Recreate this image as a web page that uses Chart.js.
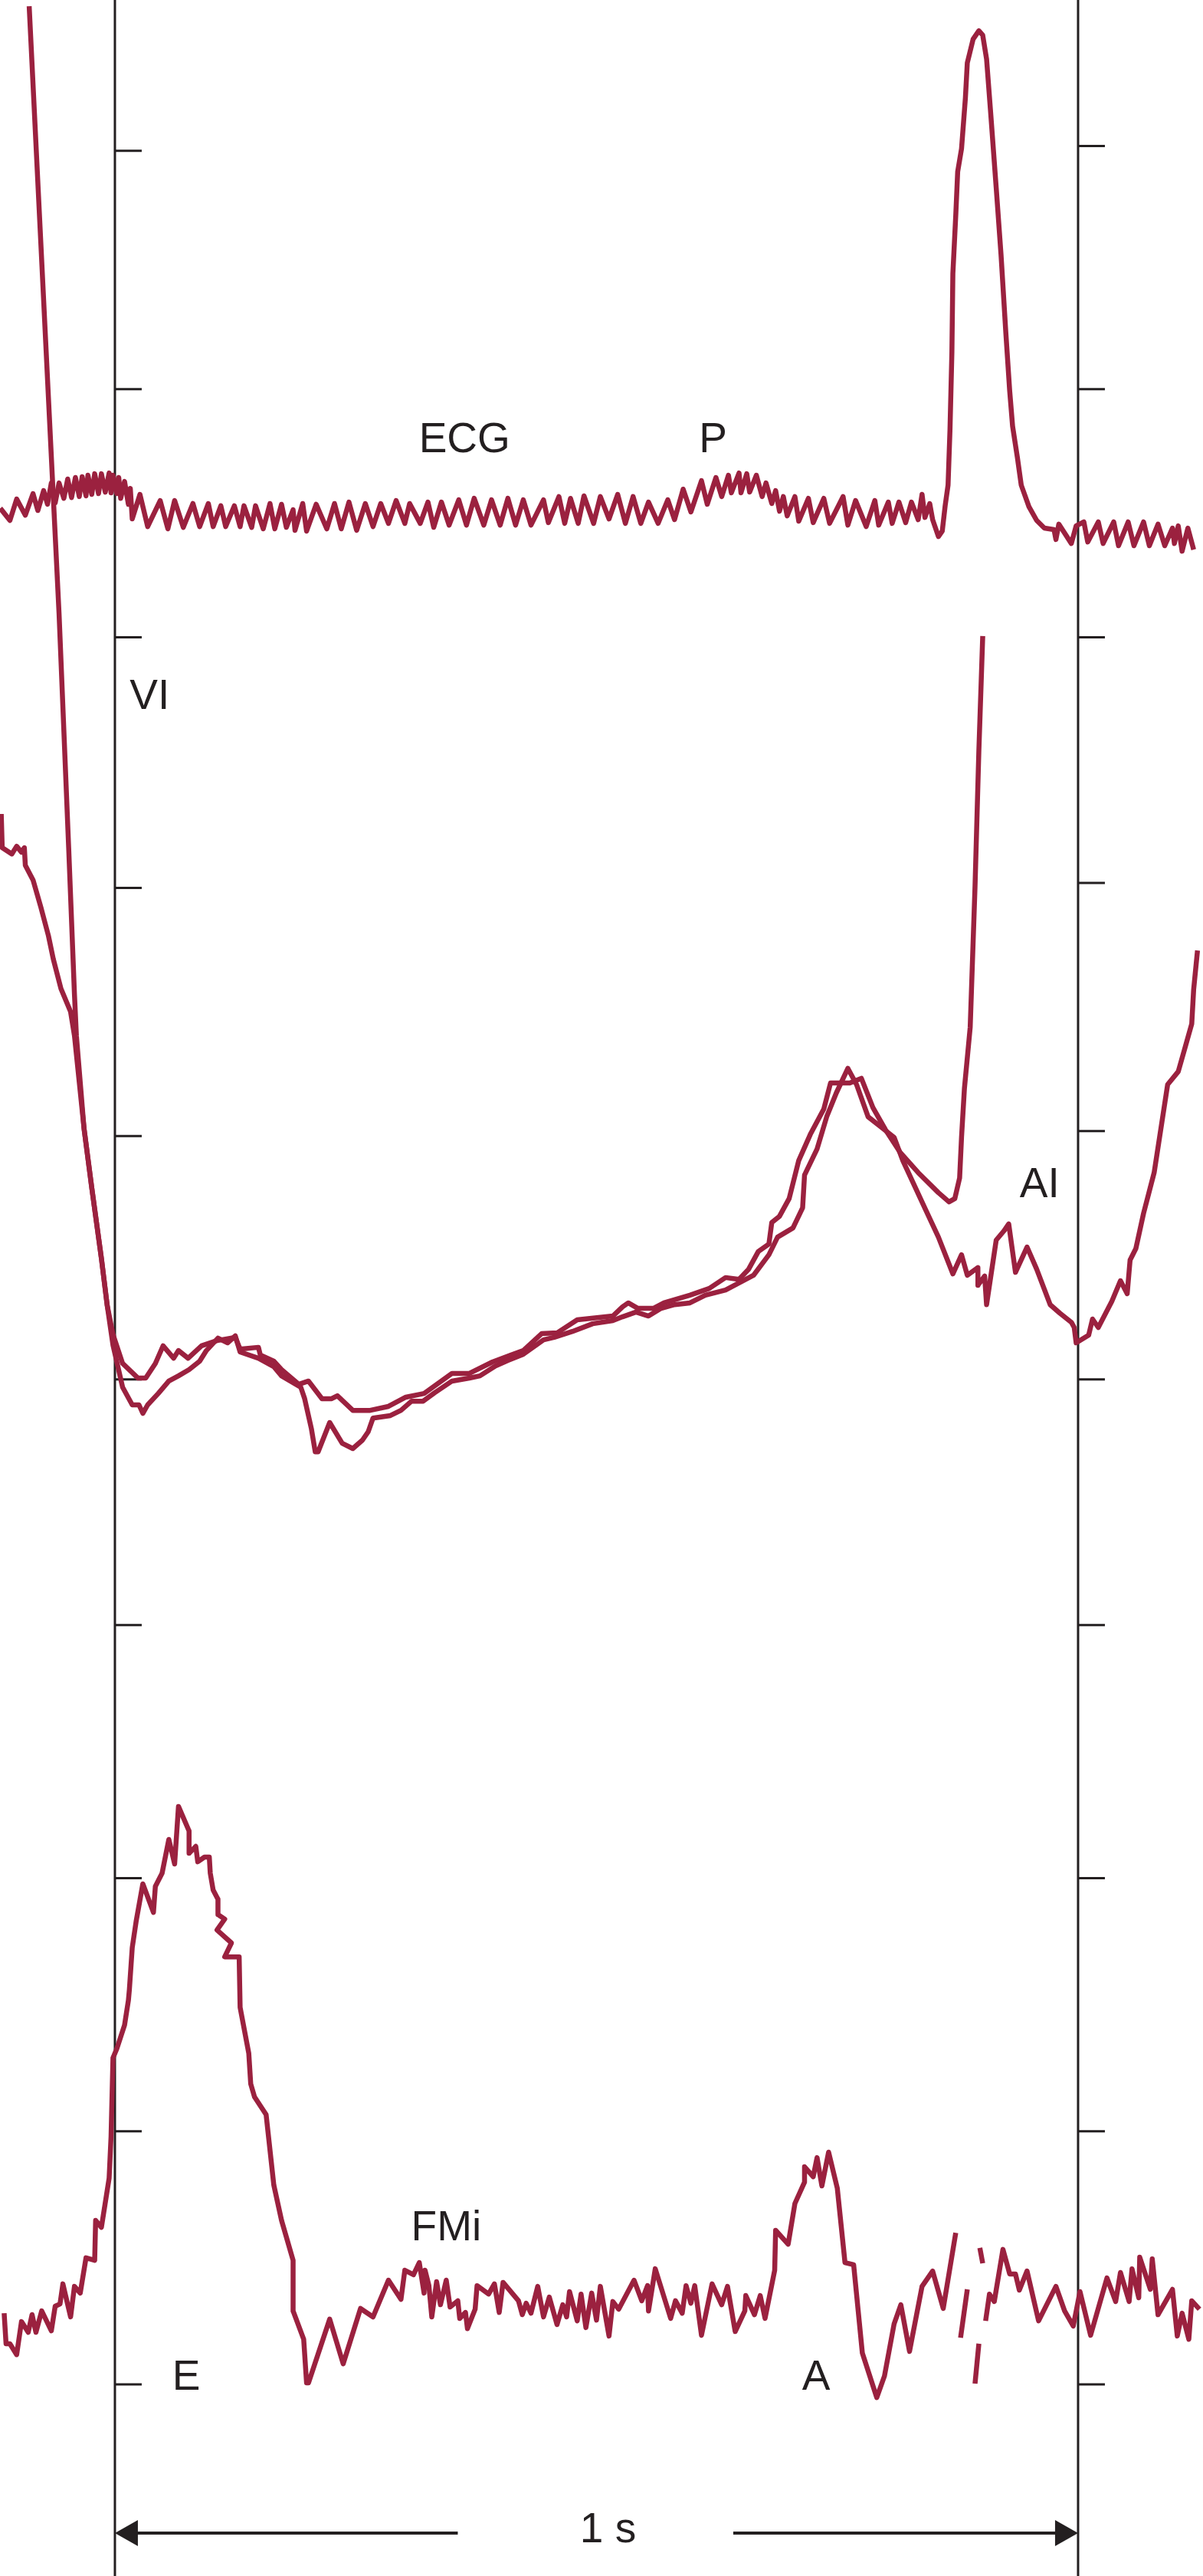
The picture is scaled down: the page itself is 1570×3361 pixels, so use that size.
<!DOCTYPE html>
<html><head><meta charset="utf-8">
<script src="https://cdn.jsdelivr.net/npm/chart.js@4.4.1/dist/chart.umd.min.js"></script>
<style>html,body{margin:0;padding:0;background:#fff}canvas{display:block}</style>
</head><body>
<canvas id="c" width="1570" height="3361" style="width:1570px;height:3361px"></canvas>
<script>
// Time in ms (0 = left reference line, 1000 = right reference line, the "1 s" bar).
// Amplitude in vertical divisions (one division = spacing of the tick marks).

// ---- ECG ----
const ecgT = [-119,-109,-102,-93,-85,-80,-74,-70,-66,-62,-58,-53,-49,-45,-41,-37,-34,-30,-28,-24,-21,-17,-14,-10,-6,-4,-2,2,4,6,10,14,16,
18,26,34,47,55,62,71,81,88,97,102,110,115,124,130,134,142,146,154,161,166,173,178,185,187,195,199,209,220,228,235,243,251,260,268,276,284,292,301,306,317,325,331,339,347,357,365,373,383,391,400,408,416,424,432,445,450,461,467,473,481,487,497,504,513,522,530,538,546,554,564,574,581,
590,598,609,615,624,630,637,640,648,650,656,659,666,672,676,682,686,690,694,698,706,710,720,725,736,742,756,761,769,780,789,793,803,807,814,821,827,834,838,841,846,849,855,859,862,
865,867,869,870,873,875,879,883,885,891,897,901,905,909,915,920,925,929,932,937,941,949,957,965,975,977,980,993,998,1006,1010,1021,1026,1037,1042,1052,1058,1068,1074,1083,1090,1098,1100,1104,1108,1114,1120];
const ecgV = [7.560,7.511,7.597,7.532,7.619,7.551,7.631,7.576,7.662,7.582,7.662,7.600,7.678,7.603,7.684,7.607,7.687,7.610,7.693,7.616,7.699,7.619,7.699,7.625,7.702,7.622,7.693,7.619,7.684,7.600,7.668,7.576,7.640,
7.517,7.616,7.486,7.591,7.477,7.591,7.483,7.579,7.486,7.579,7.486,7.570,7.486,7.570,7.486,7.570,7.483,7.570,7.477,7.579,7.477,7.576,7.483,7.554,7.471,7.579,7.468,7.576,7.477,7.579,7.477,7.585,7.471,7.579,7.486,7.579,7.499,7.591,7.499,7.579,7.499,7.585,7.483,7.585,7.492,7.594,7.492,7.600,7.492,7.594,7.492,7.600,7.492,7.594,7.492,7.594,7.502,7.607,7.499,7.600,7.499,7.610,7.499,7.607,7.517,7.616,7.499,7.607,7.499,7.585,7.499,7.594,7.514,
7.637,7.545,7.671,7.576,7.684,7.607,7.693,7.622,7.702,7.622,7.699,7.625,7.693,7.607,7.662,7.579,7.631,7.548,7.607,7.529,7.607,7.508,7.600,7.502,7.600,7.499,7.607,7.492,7.591,7.486,7.591,7.492,7.585,7.499,7.585,7.502,7.585,7.514,7.616,7.523,7.579,7.514,7.446,7.468,7.570,
7.653,7.875,8.190,8.505,8.740,8.916,9.009,9.213,9.355,9.450,9.484,9.466,9.370,9.166,8.851,8.582,8.267,8.033,7.891,7.764,7.653,7.566,7.511,7.480,7.474,7.434,7.496,7.418,7.489,7.505,7.424,7.505,7.418,7.505,7.409,7.505,7.409,7.505,7.409,7.496,7.409,7.480,7.418,7.489,7.387,7.480,7.393];

// ---- VI pressure, first trace (falling limb from top, ends in the steep rise) ----
const viAT = [-89,-58,-48,-42,-40,-32,-24,-14,-8,-2,
8,24,32,42,50,61,66,76,90,106,125,130,149,151,165,173,191,201,215,225,231,247,265,284,302,321,350,368,392,411,424,443,459,480,517,527,533,543,559,570,
597,617,634,648,658,668,679,682,690,700,710,722,736,743,763,775,787,800,815,834,855,866,872,877,879,882,888,893,897,901];
const viAV = [9.583,7.137,6.192,5.602,5.435,5.059,4.821,4.537,4.348,4.231,
4.114,4.055,4.055,4.114,4.185,4.135,4.166,4.135,4.185,4.206,4.219,4.172,4.179,4.148,4.123,4.089,4.030,4.043,3.972,3.972,3.984,3.925,3.925,3.941,3.978,3.993,4.074,4.074,4.120,4.148,4.166,4.234,4.237,4.290,4.305,4.342,4.358,4.336,4.336,4.358,
4.389,4.416,4.460,4.453,4.494,4.565,4.595,4.682,4.707,4.778,4.932,5.037,5.139,5.244,5.244,5.263,5.145,5.056,4.966,4.883,4.802,4.765,4.778,4.861,5.025,5.222,5.469,6.035,6.584,7.045];

// ---- VI pressure, second trace (continues as AI) ----
const viBT = [-118,-117,-107,-102,-97,-94,-93,-85,-77,-69,-64,-56,-46,-42,-32,-24,-14,-8,-2,
8,18,25,29,34,45,56,66,77,88,95,107,117,125,130,149,165,173,193,197,204,208,211,223,236,247,257,263,268,286,297,308,320,332,350,368,379,395,408,424,445,456,475,496,517,527,541,554,567,581,
597,613,634,663,679,688,704,714,716,729,739,749,761,770,782,797,809,818,842,855,870,879,885,896,896,903,905,915,923,928,935,947,957,971,981,993,996,998,1011,1015,1021,1035,1044,1051,1054,1060,1068,1079,1093,1104,1111,1118,1120,1124];
const viBV = [6.328,6.192,6.167,6.198,6.174,6.192,6.121,6.062,5.954,5.837,5.744,5.624,5.531,5.435,5.059,4.821,4.537,4.348,4.188,
4.018,3.947,3.947,3.913,3.947,3.993,4.043,4.064,4.089,4.123,4.166,4.216,4.197,4.225,4.160,4.135,4.101,4.064,4.018,3.972,3.851,3.758,3.758,3.876,3.792,3.771,3.805,3.839,3.894,3.904,3.925,3.962,3.962,3.996,4.043,4.055,4.064,4.104,4.126,4.151,4.209,4.219,4.243,4.274,4.287,4.302,4.321,4.305,4.336,4.351,
4.358,4.389,4.410,4.469,4.552,4.623,4.660,4.741,4.873,4.978,5.108,5.204,5.303,5.238,5.108,5.062,5.025,4.932,4.731,4.623,4.475,4.552,4.469,4.500,4.429,4.466,4.351,4.611,4.648,4.676,4.481,4.583,4.494,4.351,4.317,4.280,4.259,4.197,4.228,4.293,4.259,4.364,4.447,4.395,4.531,4.577,4.719,4.883,5.238,5.290,5.386,5.482,5.621,5.778];

// ---- FMi (mitral flow); null = gap in the trace ----
const fmiT = [-115,-113,-109,-102,-97,-90,-86,-82,-76,-66,
-62,-57,-54,-46,-42,-36,-30,-21,-20,-14,
-6,-4,-2,2,10,14,15,18,22,29,
40,42,49,56,62,66,77,77,84,86,
93,98,99,102,107,107,114,106,121,114,
129,130,139,141,145,157,165,169,173,185,
185,196,199,201,223,237,255,268,284,297,
301,310,316,321,322,326,329,334,338,344,
348,356,358,364,366,374,376,388,394,399,
403,419,423,427,432,439,445,451,459,465,
469,472,480,484,489,495,500,504,513,517,
523,539,547,553,554,561,577,582,589,593,
598,602,609,620,630,636,644,654,655,664,
670,675,685,686,699,706,716,716,725,729,
734,741,750,758,767,776,791,799,809,816,
825,838,849,860,873,876,878,885,889,893,
897,897.5,898,901,902.5,904,908,913,922,929,
935,939,947,959,977,986,995,1002,1013,1030,
1039,1044,1053,1056,1063,1064,1075,1077,1083,1098,
1103,1108,1115,1118,1126];
const fmiV = [0.287,0.164,0.164,0.120,0.253,0.210,0.281,0.210,0.296,0.216,
0.315,0.324,0.405,0.272,0.395,0.368,0.510,0.500,0.661,0.633,
0.831,0.998,1.316,1.353,1.448,1.547,1.590,1.760,1.865,2.017,
1.902,2.007,2.060,2.196,2.097,2.329,2.230,2.140,2.168,2.106,
2.125,2.125,2.060,1.992,1.955,1.893,1.875,1.831,1.779,1.723,
1.723,1.519,1.334,1.211,1.158,1.087,0.803,0.732,0.661,0.500,
0.296,0.182,0.006,0.006,0.263,0.083,0.306,0.272,0.420,0.343,
0.460,0.442,0.491,0.368,0.460,0.398,0.272,0.414,0.321,0.420,
0.312,0.337,0.266,0.290,0.225,0.303,0.398,0.364,0.405,0.290,
0.411,0.337,0.281,0.327,0.287,0.395,0.272,0.352,0.241,0.321,
0.272,0.374,0.256,0.364,0.229,0.368,0.259,0.395,0.195,0.334,
0.303,0.420,0.337,0.398,0.296,0.466,0.266,0.337,0.287,0.398,
0.327,0.398,0.198,0.405,0.321,0.395,0.213,0.296,0.358,0.281,
0.358,0.266,0.460,0.621,0.565,0.729,0.815,0.877,0.837,0.914,
0.800,0.936,0.791,0.491,0.482,0.127,-0.053,0.034,0.244,0.321,
0.133,0.395,0.457,0.306,0.611,null,0.188,0.383,null,0.003,
0.164,null,0.550,0.488,null,0.256,0.364,0.334,0.544,0.445,
0.445,0.380,0.457,0.256,0.395,0.296,0.235,0.374,0.198,0.429,
0.334,0.451,0.334,0.466,0.349,0.513,0.383,0.506,0.281,0.383,
0.195,0.287,0.182,0.337,0.303];

// ---- reference lines, tick marks, labels ----
const refLinesT = [0, 1000];
const ticksLeftV  = [0, 1.02, 2.04, 3.06, 4.05, 5.03, 6.03, 7.04, 8.04, 9.00];
const ticksRightV = [0, 1.02, 2.04, 3.06, 4.05, 5.05, 6.05, 7.04, 8.04, 9.02];
const labelText = ['ECG', 'P', 'VI', 'AI', 'FMi', 'E', 'A'];
const labelT    = [363, 621, 36, 960, 344, 74, 728];
const labelV    = [7.847, 7.847, 6.813, 4.846, 0.642, 0.040, 0.040];
const scaleBarText = '1 s';
const scaleBarT = [0, 1000];        // span of the arrow
const scaleBarGapT = [356, 642];    // break in the arrow around the text
const scaleBarTextT = 512;
const scaleBarV = -0.599;

const X_RANGE = [-119.3, 1129.7];
const Y_RANGE = [-0.772, 9.608];

const RED = '#9b213f';
const INK = '#231f20';
const FONT = '55px "Liberation Sans", Arial, Helvetica, sans-serif';
const TRACE_W = 6.5;

const pts = (ts, vs) => ts.map((t, i) => ({x: t, y: vs[i]}));
const lineDs = (label, ts, vs) => ({
  label, data: pts(ts, vs), borderColor: RED, backgroundColor: RED, borderWidth: TRACE_W, pointRadius: 0,
  fill: false, tension: 0, spanGaps: false, borderJoinStyle: 'round', borderCapStyle: 'butt'
});

const framePlugin = {
  id: 'frame',
  beforeDatasetsDraw(chart) {
    const {ctx, chartArea} = chart, x = chart.scales.x, y = chart.scales.y;
    ctx.save();
    ctx.strokeStyle = INK;
    ctx.lineWidth = 3;
    [[refLinesT[0], ticksLeftV], [refLinesT[1], ticksRightV]].forEach(([t, ticks]) => {
      const px = x.getPixelForValue(t);
      ctx.beginPath(); ctx.moveTo(px, chartArea.top); ctx.lineTo(px, chartArea.bottom); ctx.stroke();
      ticks.forEach(v => {
        const py = y.getPixelForValue(v);
        ctx.beginPath(); ctx.moveTo(px, py); ctx.lineTo(px + 35, py); ctx.stroke();
      });
    });
    ctx.restore();
  },
  afterDatasetsDraw(chart) {
    const {ctx} = chart, x = chart.scales.x, y = chart.scales.y;
    ctx.save();
    ctx.fillStyle = INK;
    ctx.font = FONT;
    ctx.textAlign = 'center';
    ctx.textBaseline = 'alphabetic';
    labelText.forEach((s, i) => {
      ctx.fillText(s, x.getPixelForValue(labelT[i]), y.getPixelForValue(labelV[i]) + 20);
    });
    // 1 s scale bar
    const py = y.getPixelForValue(scaleBarV);
    const x0 = x.getPixelForValue(scaleBarT[0]), x1 = x.getPixelForValue(scaleBarT[1]);
    const g0 = x.getPixelForValue(scaleBarGapT[0]), g1 = x.getPixelForValue(scaleBarGapT[1]);
    ctx.strokeStyle = INK; ctx.lineWidth = 4;
    ctx.beginPath(); ctx.moveTo(x0 + 20, py); ctx.lineTo(g0, py); ctx.stroke();
    ctx.beginPath(); ctx.moveTo(g1, py); ctx.lineTo(x1 - 20, py); ctx.stroke();
    ctx.beginPath(); ctx.moveTo(x0, py); ctx.lineTo(x0 + 30, py - 17); ctx.lineTo(x0 + 30, py + 17); ctx.closePath(); ctx.fill();
    ctx.beginPath(); ctx.moveTo(x1, py); ctx.lineTo(x1 - 30, py - 17); ctx.lineTo(x1 - 30, py + 17); ctx.closePath(); ctx.fill();
    ctx.fillText(scaleBarText, x.getPixelForValue(scaleBarTextT), py + 12);
    ctx.restore();
  }
};

new Chart(document.getElementById('c'), {
  type: 'line',
  data: {
    datasets: [
      lineDs('ECG', ecgT, ecgV),
      lineDs('VI 1', viAT, viAV),
      lineDs('VI 2 / AI', viBT, viBV),
      lineDs('FMi', fmiT, fmiV)
    ]
  },
  options: {
    responsive: false,
    animation: false,
    devicePixelRatio: 1,
    layout: {padding: 0},
    elements: {line: {borderWidth: TRACE_W, borderJoinStyle: 'round'}, point: {radius: 0}},
    plugins: {legend: {display: false}, tooltip: {enabled: false}},
    scales: {
      x: {type: 'linear', min: X_RANGE[0], max: X_RANGE[1], display: false},
      y: {type: 'linear', min: Y_RANGE[0], max: Y_RANGE[1], display: false}
    }
  },
  plugins: [framePlugin]
});
</script>
</body></html>
